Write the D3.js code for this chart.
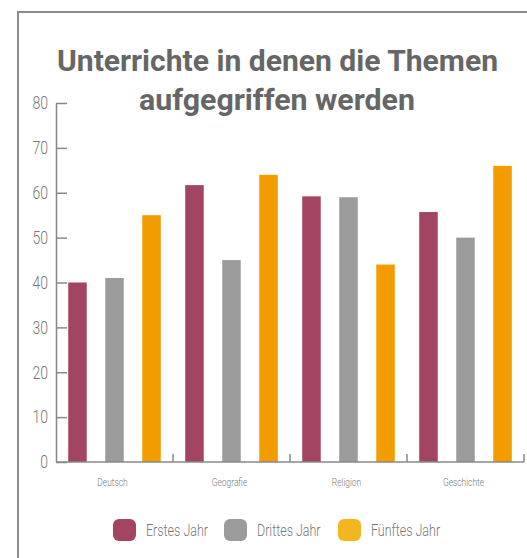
<!DOCTYPE html>
<html>
<head>
<meta charset="utf-8">
<script src="https://cdn.jsdelivr.net/npm/d3@7"></script>
<style>
  body { margin: 0; background: #fff; }
  svg { display: block; }
</style>
</head>
<body>
<svg id="chart" width="527" height="558"></svg>
<script>
// data
const categories = ['Deutsch', 'Geografie', 'Religion', 'Geschichte']
const series = ['Erstes Jahr', 'Drittes Jahr', 'Fünftes Jahr']
const erstesJahr = [40, 61.7, 59.2, 55.7]
const drittesJahr = [41, 45, 59, 50]
const fuenftesJahr = [55, 64, 44, 66]
const yTicks = [0, 10, 20, 30, 40, 50, 60, 70, 80]

const barColors = ['#a34462', '#9b9b9b', '#f39c00']
const legendColors = ['#a34462', '#9b9b9b', '#f2b71f']

const values = [erstesJahr, drittesJahr, fuenftesJahr]
const data = categories.map((c, i) => ({
  cat: c,
  vals: series.map((s, j) => ({ key: s, idx: j, value: values[j][i] }))
}))

const font = 'Roboto, sans-serif'
const svg = d3.select('#chart')

// no narrow font installed, so squeeze text horizontally
function condense (sel, f) {
  sel.each(function () {
    const t = d3.select(this)
    const x = +t.attr('x') || 0
    t.attr('x', x / f).attr('transform', 'scale(' + f + ',1)')
  })
}

// frame (left + top border)
svg.append('path')
  .attr('d', 'M18,558 V12 H527')
  .attr('fill', 'none')
  .attr('stroke', '#8c8c8c')
  .attr('stroke-width', 2)

// title
const title = svg.append('g')
  .attr('fill', '#666')
  .style('font-family', font)
  .style('font-weight', 'bold')
  .style('font-size', '29px')
title.append('text').attr('x', 57).attr('y', 71)
  .attr('textLength', 441).attr('lengthAdjust', 'spacingAndGlyphs')
  .text('Unterrichte in denen die Themen')
title.append('text').attr('x', 139).attr('y', 110)
  .attr('textLength', 276).attr('lengthAdjust', 'spacingAndGlyphs')
  .text('aufgegriffen werden')

const plotLeft = 56, plotRight = 524, plotTop = 103, plotBottom = 462

const x0 = d3.scaleBand()
  .domain(categories)
  .range([plotLeft, plotRight])

const x1 = d3.scaleBand()
  .domain(series)
  .range([0, x0.bandwidth()])
  .paddingInner(0.5)
  .paddingOuter(0.33)

const y = d3.scaleLinear()
  .domain([0, 80])
  .range([plotBottom, plotTop])

// bars
const groups = svg.selectAll('.grp')
  .data(data)
  .enter()
  .append('g')
  .attr('transform', d => 'translate(' + x0(d.cat) + ',0)')

groups.selectAll('rect')
  .data(d => d.vals)
  .enter()
  .append('rect')
  .attr('x', d => x1(d.key))
  .attr('y', d => y(d.value))
  .attr('width', x1.bandwidth())
  .attr('height', d => plotBottom - y(d.value))
  .attr('fill', d => barColors[d.idx])

// y axis
const yAxis = svg.append('g')
  .attr('transform', 'translate(' + plotLeft + ',0)')
  .call(d3.axisRight(y).tickValues(yTicks).tickSize(11).tickSizeOuter(0).tickFormat(d3.format('d')))
yAxis.select('.domain').attr('stroke', '#888').attr('stroke-width', 1.5)
yAxis.selectAll('.tick line').attr('stroke', '#888').attr('stroke-width', 1.5)
yAxis.selectAll('.tick text')
  .attr('x', -8)
  .attr('text-anchor', 'end')
  .attr('fill', '#777')
  .style('font-family', font)
  .style('font-weight', 300)
  .style('font-size', '18px')
  .call(condense, 0.78)

// x axis: separators between categories, ticks pointing up
const sepTicks = categories.map(c => x0(c) + x0.bandwidth())
const xAxis = svg.append('g')
  .attr('transform', 'translate(0,' + plotBottom + ')')
xAxis.append('line')
  .attr('x1', plotLeft).attr('x2', plotRight)
  .attr('stroke', '#888').attr('stroke-width', 1.5)
xAxis.selectAll('.sep')
  .data(sepTicks)
  .enter()
  .append('line')
  .attr('x1', d => d).attr('x2', d => d)
  .attr('y1', 0).attr('y2', -8)
  .attr('stroke', '#888').attr('stroke-width', 1.5)

xAxis.selectAll('.lbl')
  .data(categories)
  .enter()
  .append('text')
  .attr('x', d => x0(d) + x0.bandwidth() / 2 - 2)
  .attr('y', 24)
  .attr('text-anchor', 'middle')
  .attr('fill', '#777')
  .style('font-family', font)
  .style('font-weight', 300)
  .style('font-size', '10.5px')
  .text(d => d)
  .call(condense, 0.8)

// legend
const legendX = [113, 224, 338]
const legend = svg.selectAll('.leg')
  .data(series)
  .enter()
  .append('g')
  .attr('transform', (d, i) => 'translate(' + legendX[i] + ',519)')

legend.append('rect')
  .attr('width', 23).attr('height', 22)
  .attr('rx', 6).attr('ry', 6)
  .attr('fill', (d, i) => legendColors[i])

legend.append('text')
  .attr('x', 33)
  .attr('y', 17)
  .attr('fill', '#777')
  .style('font-family', font)
  .style('font-weight', 300)
  .style('font-size', '16px')
  .text(d => d)
  .call(condense, 0.78)
</script>
</body>
</html>
